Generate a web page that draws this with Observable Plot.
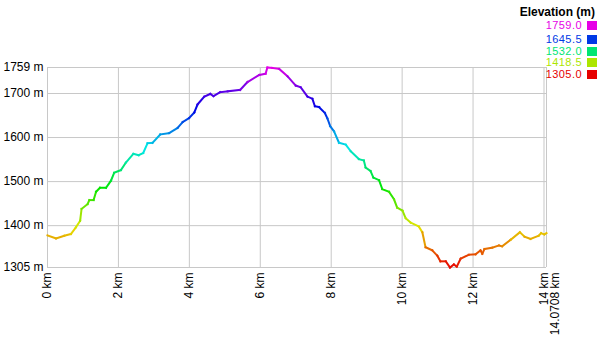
<!DOCTYPE html>
<html>
<head>
<meta charset="utf-8">
<script src="https://cdn.jsdelivr.net/npm/d3@7"></script>
<script src="https://cdn.jsdelivr.net/npm/@observablehq/plot@0.6"></script>
<style>
  html, body { margin: 0; padding: 0; background: #fff; }
  #wrap { position: relative; width: 600px; height: 342px; font-family: "Liberation Sans", Arial, sans-serif; }
  #legend { position: absolute; top: 0; right: 0; width: 200px; height: 90px; }
  .lt { position: absolute; right: 5px; top: 6px; font-weight: bold; font-size: 12px; line-height: 12px; color: #000; white-space: nowrap; }
  .lv { position: absolute; right: 18px; font-size: 11px; letter-spacing: 0.45px; white-space: nowrap; line-height: 11px; }
  .ls { position: absolute; right: 3px; width: 10px; height: 9px; }
</style>
</head>
<body>
<div id="wrap"><div id="chart"></div><div id="legend"></div></div>
<script>
// distance along route (km) and elevation (m)
const distanceKm = [0, 0.24, 0.47, 0.66, 0.80, 0.92, 0.96, 1.13, 1.18, 1.30, 1.37, 1.48, 1.65, 1.79, 1.88, 2.07, 2.21, 2.42, 2.57, 2.70, 2.82, 2.96, 3.18, 3.43, 3.67, 3.81, 3.99, 4.14, 4.23, 4.42, 4.59, 4.68, 4.87, 5.08, 5.43, 5.64, 5.97, 6.15, 6.20, 6.34, 6.53, 6.77, 7.00, 7.14, 7.33, 7.47, 7.54, 7.66, 7.82, 7.89, 7.97, 8.08, 8.22, 8.41, 8.55, 8.78, 8.92, 8.97, 9.11, 9.19, 9.35, 9.44, 9.63, 9.77, 9.86, 10.01, 10.10, 10.24, 10.47, 10.57, 10.66, 10.85, 10.99, 11.08, 11.23, 11.35, 11.46, 11.54, 11.65, 11.88, 12.07, 12.21, 12.26, 12.32, 12.54, 12.73, 12.82, 13.06, 13.32, 13.45, 13.62, 13.85, 13.92, 14.01, 14.0708];
const elevationM = [1378, 1371, 1377, 1381, 1396, 1411, 1438, 1449, 1458, 1458, 1477, 1486, 1486, 1502, 1520, 1526, 1543, 1563, 1560, 1565, 1587, 1588, 1607, 1610, 1622, 1635, 1644, 1657, 1675, 1693, 1699, 1694, 1703, 1705, 1708, 1726, 1742, 1745, 1759, 1758, 1756, 1739, 1718, 1714, 1693, 1688, 1671, 1669, 1656, 1644, 1626, 1614, 1588, 1584, 1569, 1551, 1548, 1532, 1524, 1509, 1503, 1483, 1477, 1460, 1441, 1434, 1417, 1407, 1398, 1385, 1351, 1344, 1332, 1319, 1319, 1305, 1312, 1307, 1325, 1334, 1335, 1344, 1336, 1347, 1350, 1355, 1353, 1368, 1385, 1375, 1370, 1377, 1383, 1380, 1383];
const xTicks = [0, 2, 4, 6, 8, 10, 12, 14];
const xEnd = [14.0708];
const yTicks = [1305, 1400, 1500, 1600, 1700, 1759];
const legendTitle = "Elevation (m)";
const legendValues = [1759.0, 1645.5, 1532.0, 1418.5, 1305.0];

const points = distanceKm.map((d, i) => ({km: d, elev: elevationM[i]}));
const segs = d3.pairs(points).map(([a, b]) => ({x1: a.km, y1: a.elev, x2: b.km, y2: b.elev, e: (a.elev + b.elev) / 2}));

const grid = "#c8c8c8";
const chart = Plot.plot({
  width: 600, height: 342,
  marginLeft: 47, marginRight: 54, marginTop: 67, marginBottom: 75,
  style: {fontFamily: "Liberation Sans, Arial, sans-serif", fontSize: "12px", color: "#000", background: "#fff"},
  x: {domain: [0, 14.0708]},
  y: {domain: [1305, 1759]},
  color: {type: "linear", domain: [1305, 1759], interpolate: t => d3.hsl(300 * t, 1, 0.45).toString()},
  marks: [
    Plot.ruleX([...xTicks, ...xEnd], {stroke: grid, strokeWidth: 1}),
    Plot.ruleY(yTicks, {stroke: grid, strokeWidth: 1}),
    Plot.link(segs, {x1: "x1", y1: "y1", x2: "x2", y2: "y2", stroke: "e", strokeWidth: 2, strokeLinecap: "square"}),
    Plot.axisY(yTicks, {tickSize: 0, tickPadding: 4, tickFormat: d => d + " m", label: null, fontSize: 12}),
    Plot.axisX(xTicks, {tickSize: 0, tickPadding: 5, tickRotate: -90, tickFormat: d => d + " km", label: null, fontSize: 12}),
    Plot.axisX(xEnd, {tickSize: 0, tickPadding: 5, tickRotate: -90, dx: 9, tickFormat: d => d + " km", label: null, fontSize: 12})
  ]
});
document.getElementById("chart").appendChild(chart);

const color = chart.scale("color");
const legend = document.getElementById("legend");
const t = document.createElement("div");
t.className = "lt"; t.textContent = legendTitle; legend.appendChild(t);
const rowTops = [19.5, 33.5, 45.5, 57, 68.5];
legendValues.forEach((v, i) => {
  const c = color.apply(v);
  const lv = document.createElement("div");
  lv.className = "lv"; lv.style.top = rowTops[i] + "px"; lv.style.color = c; lv.textContent = v.toFixed(1);
  legend.appendChild(lv);
  const sq = document.createElement("div");
  sq.className = "ls"; sq.style.top = (rowTops[i] + 1) + "px"; sq.style.background = c;
  legend.appendChild(sq);
});
</script>
</body>
</html>
